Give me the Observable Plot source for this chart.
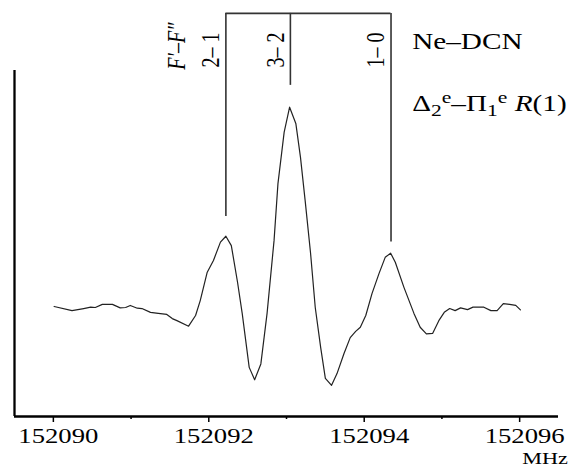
<!DOCTYPE html>
<html><head><meta charset="utf-8">
<script src="https://cdn.jsdelivr.net/npm/d3@7"></script>
<script src="https://cdn.jsdelivr.net/npm/@observablehq/plot@0.6"></script>
<style>html,body{margin:0;padding:0;background:#fff;} svg{display:block}</style>
</head><body>
<script>
// Spectrum (frequency in MHz, intensity in arbitrary units)
const freqs = [152090.01,152090.24,152090.39,152090.48,152090.54,152090.63,152090.76,152090.86,152090.93,152090.99,
  152091.08,152091.14,152091.25,152091.35,152091.46,152091.53,152091.59,152091.74,152091.83,152091.89,
  152091.98,152092.06,152092.15,152092.22,152092.29,152092.37,152092.43,152092.52,152092.59,152092.67,
  152092.75,152092.84,152092.89,152092.97,152093.04,152093.12,152093.18,152093.24,152093.31,152093.37,
  152093.44,152093.50,152093.58,152093.65,152093.74,152093.82,152093.89,152093.95,152094.02,152094.10,
  152094.19,152094.27,152094.34,152094.40,152094.51,152094.64,152094.72,152094.80,152094.88,152094.96,
  152095.03,152095.10,152095.17,152095.24,152095.33,152095.40,152095.54,152095.63,152095.71,152095.79,
  152095.87,152095.95,152096.01];
const intensity = [31.8,30.6,31.2,31.6,31.5,32.4,32.4,31.4,31.5,32.1,
  31.3,31.2,30.1,29.8,29.5,28.3,27.7,26.1,29.2,33.5,
  41.7,45.1,50.4,52.1,49.4,38.8,29.8,14.2,10.6,15.2,
  29.8,50.9,67.3,82.2,89.4,84.7,74.9,62.4,47.1,31.5,
  19.9,11.0,9.0,12.4,18.2,22.8,24.6,25.8,29.2,35.5,
  41.3,46.0,47.2,44.6,37.4,29.8,25.8,23.9,24.0,27.7,
  30.1,31.2,30.6,31.4,30.9,31.6,31.6,30.6,30.6,32.6,
  32.4,32.1,30.8];
const majorTicks = [152090, 152092, 152094, 152096];
const minorTicks = [152091, 152093, 152095];
const transitionLabels = ["2– 1", "3– 2", "1– 0"];
const transitionFreqs = [152092.22, 152093.05, 152094.345];
const transitionLineEnds = [57.8, 95.7, 50.4];
const bracketLevel = 116.5;
const quantumHeader = "F′–F″";
const speciesLabel = "Ne–DCN";
const bandLabel = "Δ2e–Π1e R(1)";
const unitLabel = "MHz";

const spectrum = freqs.map((f, i) => ({f, v: intensity[i]}));
const transitions = transitionLabels.map((label, i) => ({label, f: transitionFreqs[i], end: transitionLineEnds[i]}));
const serif = "'Liberation Serif', 'Times New Roman', serif";

const svg = Plot.plot({
  width: 579, height: 466,
  marginLeft: 14, marginRight: 21, marginTop: 70, marginBottom: 50,
  style: {fontFamily: serif, fontSize: "21px", background: "#fff", color: "#000", overflow: "visible"},
  x: {domain: [152089.5, 152096.5], label: null},
  y: {domain: [0, 100], axis: null, label: null},
  marks: [
    Plot.ruleX([152089.5], {stroke: "#000", strokeWidth: 2.3}),
    Plot.ruleY([0], {stroke: "#000", strokeWidth: 2.3}),
    Plot.axisX(majorTicks, {tickSize: 6, text: null, label: null, strokeWidth: 1.5}),
    Plot.axisX(minorTicks, {tickSize: 3, text: null, label: null, strokeWidth: 1.5}),
    Plot.axisX(majorTicks, {tickSize: 0, tickPadding: 12, dx: 5, label: null, tickFormat: d3.format("d"), fontSize: 21}),
    Plot.line(spectrum, {x: "f", y: "v", stroke: "#222", strokeWidth: 1.2}),
    Plot.ruleX(transitions, {x: "f", y1: "end", y2: bracketLevel, stroke: "#333", strokeWidth: 1.6}),
    Plot.ruleY([bracketLevel], {x1: transitionFreqs[0], x2: transitionFreqs[transitionFreqs.length - 1], stroke: "#333", strokeWidth: 1.6}),
    Plot.text(transitions, {x: "f", text: "label", frameAnchor: "top", lineAnchor: "middle", rotate: -90, textAnchor: "end", dx: -15, dy: -38, fontSize: 20, fill: "#000"}),
    Plot.text([quantumHeader], {frameAnchor: "top-left", lineAnchor: "middle", rotate: -90, textAnchor: "end", dx: 162.7, dy: -48, fontSize: 20, fontStyle: "italic", fill: "#000"}),
    Plot.text([speciesLabel], {frameAnchor: "top-right", textAnchor: "start", lineAnchor: "bottom", dx: -146.3, dy: -22, fontSize: 23, fill: "#000"}),
    Plot.text([bandLabel], {frameAnchor: "top-right", textAnchor: "start", lineAnchor: "bottom", dx: -146.3, dy: 40, fontSize: 23, fill: "#000"}),
    Plot.text([unitLabel], {frameAnchor: "bottom-right", textAnchor: "start", lineAnchor: "bottom", dx: -36.3, dy: 47, fontSize: 17.5, fill: "#000"})
  ]
});
document.body.appendChild(svg);

let allTexts = Array.from(svg.querySelectorAll("text"));
allTexts.filter(t => t.textContent === "").forEach(t => t.remove());
allTexts = allTexts.filter(t => t.isConnected);

// Band label with sub/superscripts
const bandText = allTexts.find(t => t.textContent === bandLabel);
if (bandText) {
  const parts = [["Δ",0,23,"normal"],["2",5,17,"normal"],["e",-8,17,"normal"],["–",0,23,"normal"],["Π",0,23,"normal"],
    ["1",5,17,"normal"],["e",-8,17,"normal"],[" ",0,23,"normal"],["R",0,23,"italic"],["(1)",0,23,"normal"]];
  bandText.textContent = "";
  let cur = 0;
  for (const [s, off, fs, st] of parts) {
    const ts = document.createElementNS("http://www.w3.org/2000/svg", "tspan");
    ts.setAttribute("dy", off - cur);
    ts.setAttribute("font-size", fs);
    ts.setAttribute("font-style", st);
    ts.textContent = s;
    bandText.appendChild(ts);
    cur = off;
  }
}

// The reference is stretched horizontally: mimic it with glyph scaling
const S = 1.27;
allTexts.forEach(t => {
  const tr = t.getAttribute("transform") || "";
  if (/rotate\(/.test(tr)) {
    t.setAttribute("transform", tr.replace(/rotate\(([^)]*)\)/, "scale(" + S + ",1) rotate($1)"));
  } else {
    const L = t.getComputedTextLength();
    if (L > 0) {
      t.setAttribute("textLength", L * S);
      t.setAttribute("lengthAdjust", "spacingAndGlyphs");
    }
  }
});
</script>
</body></html>
